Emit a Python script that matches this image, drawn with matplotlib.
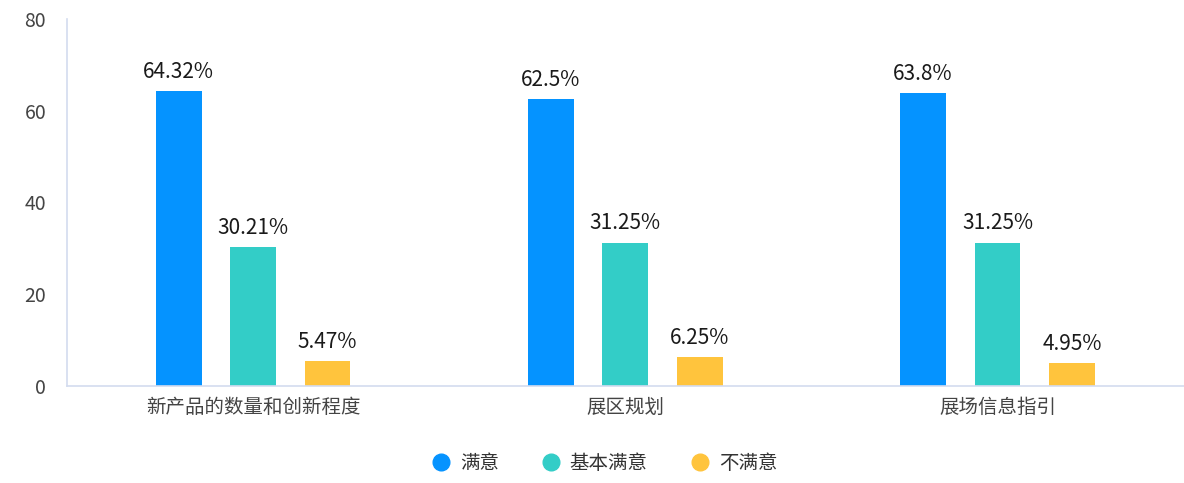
import numpy as np
import matplotlib
matplotlib.use("Agg")
import matplotlib.pyplot as plt
from matplotlib.lines import Line2D

plt.rcParams['font.family'] = ['Noto Sans CJK SC', 'DejaVu Sans']

# data
categories = ['新产品的数量和创新程度', '展区规划', '展场信息指引']
series_names = ['满意', '基本满意', '不满意']
satisfied = [64.32, 62.5, 63.8]
basic = [30.21, 31.25, 31.25]
unsatisfied = [5.47, 6.25, 4.95]
colors = ['#0593FF', '#33CDC7', '#FFC43D']

fig = plt.figure(figsize=(11.84, 4.83), dpi=100)
ax = fig.add_axes([0.0566, 0.2008, 0.943, 0.76])

x = np.arange(len(categories))
width = 0.123
offsets = [-0.2, 0.0, 0.2]
for vals, off, c, name in zip([satisfied, basic, unsatisfied], offsets, colors, series_names):
    bars = ax.bar(x + off, vals, width, color=c, label=name)
    for b, v in zip(bars, vals):
        ax.annotate(f'{v:g}%', (b.get_x() + b.get_width() / 2, v),
                    xytext=(0, 6), textcoords='offset points',
                    ha='center', va='bottom', fontsize=15, color='#1a1a1a')

ax.set_xlim(-0.5, 2.5)
ax.set_ylim(0, 80)
ax.set_yticks([0, 20, 40, 60, 80])
ax.set_xticks(x)
ax.set_xticklabels(categories, fontsize=14)
ax.tick_params(axis='both', length=0, colors='#444444')
ax.tick_params(axis='y', pad=15, labelsize=14)
ax.tick_params(axis='x', pad=8)

for s in ['top', 'right']:
    ax.spines[s].set_visible(False)
for s in ['left', 'bottom']:
    ax.spines[s].set_color('#D3DCEF')
    ax.spines[s].set_linewidth(1.2)

handles = [Line2D([], [], marker='o', linestyle='', markersize=12,
                  markerfacecolor=c, markeredgecolor=c) for c in colors]
fig.legend(handles, series_names, loc='center', bbox_to_anchor=(0.508, 0.04),
           ncol=3, frameon=False, fontsize=14, handletextpad=0.15,
           handlelength=1.6, columnspacing=1.9, labelcolor='#333333')

fig.savefig('out.png', dpi=100)
